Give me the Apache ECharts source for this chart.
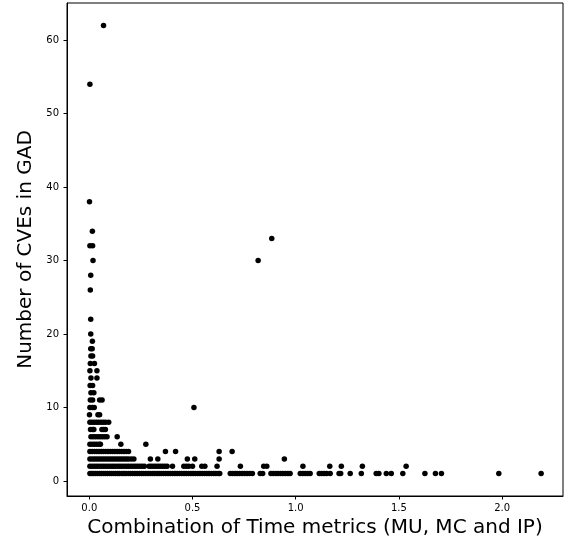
<!DOCTYPE html>
<html>
<head>
<meta charset="utf-8">
<script src="https://cdn.jsdelivr.net/npm/echarts@6/dist/echarts.min.js"></script>
<style>
html, body { margin: 0; padding: 0; background: #fff; }
#container { width: 580px; height: 548px; }
</style>
</head>
<body>
<div id="container"></div>
<script>
// x values (time metric) for each CVE count
var row1 = [0.003,0.012,0.02,0.03,0.04,0.05,0.058,0.068,0.078,0.088,0.097,0.107,0.118,0.128,0.138,0.147,0.158,0.168,0.178,0.19,0.2,0.21,0.221,0.232,0.243,0.252,0.263,0.274,0.285,0.296,0.306,0.317,0.328,0.338,0.349,0.36,0.371,0.382,0.393,0.404,0.415,0.426,0.437,0.448,0.459,0.47,0.481,0.492,0.503,0.514,0.525,0.536,0.547,0.558,0.569,0.58,0.591,0.602,0.613,0.624,0.632,
    0.683,0.694,0.706,0.717,0.728,0.74,0.752,0.764,0.777,0.79,0.828,0.84,0.88,0.891,0.903,0.915,0.927,0.938,0.95,0.962,0.973,
    1.022,1.034,1.046,1.058,1.07,1.114,1.126,1.138,1.15,1.167,1.21,1.218,1.264,1.318,1.39,1.403,1.439,1.463,1.519,1.626,1.677,1.706,1.984,2.189];
var row2 = [0.003,0.014,0.025,0.036,0.047,0.058,0.069,0.08,0.091,0.102,0.113,0.124,0.135,0.146,0.157,0.168,0.179,0.19,0.201,0.212,0.223,0.234,0.245,0.256,0.267,0.29,0.3,0.311,0.322,0.333,0.344,0.355,0.366,0.377,0.403,
    0.458,0.47,0.482,0.5,0.545,0.56,0.619,0.732,0.845,0.86,1.035,1.165,1.221,1.323,1.535];
var row3 = [0.003,0.014,0.025,0.036,0.047,0.058,0.069,0.08,0.091,0.102,0.113,0.124,0.135,0.146,0.157,0.168,0.179,0.19,0.203,0.216,0.296,0.332,0.475,0.511,0.629,0.945];
var row4 = [0.003,0.014,0.025,0.036,0.047,0.058,0.069,0.08,0.091,0.102,0.113,0.124,0.135,0.146,0.157,0.168,0.179,0.19,0.369,0.418,0.629,0.692];
var row5 = [0.003,0.014,0.025,0.036,0.047,0.054,0.153,0.274];
var row6 = [0.008,0.019,0.03,0.042,0.053,0.064,0.075,0.086,0.135];
var row7 = [0.006,0.016,0.022,0.061,0.07,0.078];
var row8 = [0.003,0.013,0.024,0.035,0.046,0.057,0.068,0.079,0.094];
// [time metric, number of CVEs] for the sparse points
var sparsePoints = [
    [0.001,9],[0.042,9],[0.05,9],
    [0.003,10],[0.015,10],[0.024,10],[0.507,10],
    [0.005,11],[0.016,11],[0.05,11],[0.062,11],
    [0.008,12],[0.022,12],[0.004,13],[0.016,13],
    [0.008,14],[0.037,14],[0.003,15],[0.037,15],
    [0.005,16],[0.025,16],[0.008,17],[0.016,17],
    [0.007,18],[0.014,18],[0.015,19],[0.007,20],
    [0.007,22],[0.005,26],[0.007,28],[0.018,30],[0.818,30],
    [0.003,32],[0.016,32],[0.884,33],[0.015,34],[0.001,38],
    [0.003,54],[0.069,62]
];
var xTicks = [0, 0.5, 1, 1.5, 2];
var yTicks = [0, 10, 20, 30, 40, 50, 60];

var points = [];
[row1, row2, row3, row4, row5, row6, row7, row8].forEach(function (row, i) {
    row.forEach(function (x) { points.push([x, i + 1]); });
});
points = points.concat(sparsePoints);

var dom = document.getElementById("container");
var myChart = echarts.init(dom);
var font = 'DejaVu Sans';
var option = {
    animation: false,
    grid: {
        left: 67, right: 17, top: 3, bottom: 52,
        show: true, borderColor: '#000', borderWidth: 1, backgroundColor: 'transparent'
    },
    xAxis: {
        type: 'value',
        min: -0.108, max: 2.295,
        name: 'Combination of Time metrics (MU, MC and IP)',
        nameLocation: 'middle',
        nameGap: 13,
        nameTextStyle: { fontFamily: font, fontSize: 20, color: '#000' },
        axisLine: { show: true, onZero: false, lineStyle: { color: '#000', width: 1 } },
        axisTick: { show: true, length: 3.5, lineStyle: { color: '#000' }, customValues: xTicks },
        axisLabel: {
            customValues: xTicks, margin: 7,
            fontFamily: font, fontSize: 10, color: '#000',
            formatter: function (v) { return v.toFixed(1); }
        },
        splitLine: { show: false }
    },
    yAxis: {
        type: 'value',
        min: -2.05, max: 65.05,
        name: 'Number of CVEs in GAD',
        nameLocation: 'middle',
        nameGap: 30,
        nameTextStyle: { fontFamily: font, fontSize: 20, color: '#000' },
        axisLine: { show: true, onZero: false, lineStyle: { color: '#000', width: 1 } },
        axisTick: { show: true, length: 3.5, lineStyle: { color: '#000' }, customValues: yTicks },
        axisLabel: {
            customValues: yTicks, margin: 8,
            fontFamily: font, fontSize: 10, color: '#000'
        },
        splitLine: { show: false }
    },
    series: [{
        type: 'scatter',
        symbol: 'circle',
        symbolSize: 5.5,
        itemStyle: { color: '#000', opacity: 1 },
        data: points
    }]
};
myChart.setOption(option, true);
</script>
</body>
</html>
